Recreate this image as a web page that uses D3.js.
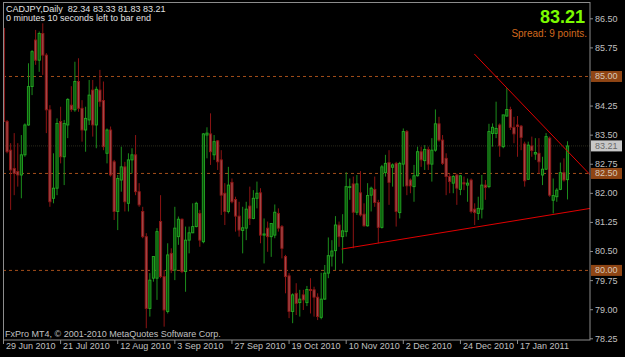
<!DOCTYPE html>
<html>
<head>
<meta charset="utf-8">
<title>CADJPY Daily</title>
<style>
  body { margin: 0; background: #000; }
  svg { display: block; font-family: "Liberation Sans", Arial, sans-serif; }
</style>
</head>
<body>
<svg id="chart" width="625" height="357"></svg>
<script src="https://d3js.org/d3.v7.min.js"></script>
<script>
// CADJPY daily, 29 Jun 2010 .. 4 Feb 2011, each bar is [open, high, low, close]
const bars = [
  [86.24,86.30,83.79,83.84],[83.84,83.88,83.02,83.06],[83.10,83.28,81.56,82.59],[82.63,83.54,81.94,82.50],
  [82.55,83.28,82.16,82.46],[82.46,83.49,81.86,82.98],[82.98,83.79,82.93,83.75],[83.75,85.34,83.73,84.74],
  [84.74,85.68,84.52,85.64],[85.94,86.20,85.30,85.42],[85.42,86.16,85.12,86.11],[86.11,86.37,85.04,85.55],
  [85.55,85.60,83.54,84.14],[84.14,84.26,81.64,81.77],[81.86,83.02,81.73,82.12],[82.12,83.92,81.94,83.79],
  [83.84,84.22,82.76,82.93],[82.93,83.88,82.20,83.79],[83.75,84.44,83.41,84.41],[84.26,84.75,84.09,84.15],
  [84.14,85.38,84.09,84.87],[84.87,85.47,84.09,84.18],[84.18,84.39,83.32,83.62],[83.62,84.22,83.06,83.92],
  [83.88,84.91,83.75,84.52],[84.65,84.91,83.45,83.75],[83.75,84.74,83.15,84.67],[84.65,85.17,84.22,84.35],
  [84.38,84.87,83.10,83.19],[83.02,83.66,82.76,83.62],[83.62,83.71,82.42,82.46],[82.80,82.85,81.30,81.52],
  [81.52,82.46,81.04,82.37],[82.33,83.19,82.03,82.67],[82.67,82.80,81.52,81.77],[81.73,83.02,81.52,82.85],
  [82.85,83.15,82.50,82.98],[82.98,83.49,81.94,82.03],[82.03,82.25,81.64,81.69],[81.52,81.64,80.83,80.87],
  [80.87,80.96,78.51,79.02],[79.02,79.93,78.81,79.75],[79.80,80.36,79.71,80.36],[79.80,81.09,79.24,81.00],
  [81.26,81.94,79.80,79.84],[79.84,80.01,78.55,78.98],[78.94,80.70,78.89,80.40],[80.44,80.57,79.93,80.01],
  [80.01,81.64,79.75,81.09],[80.87,81.39,80.66,81.32],[81.32,81.34,79.93,79.97],[79.97,81.13,79.45,80.78],
  [80.78,81.13,80.44,80.97],[80.97,81.73,80.96,81.13],[81.13,81.77,81.11,81.73],[81.47,81.56,80.61,80.78],
  [80.74,83.54,80.70,83.52],[83.49,83.69,82.89,83.54],[83.52,84.05,82.72,83.06],[82.98,83.49,82.85,83.32],
  [83.34,83.36,82.59,82.80],[82.85,83.10,81.43,81.94],[81.99,82.25,81.17,81.52],[81.52,82.67,81.47,82.20],
  [82.27,82.37,81.73,81.77],[81.83,81.90,81.00,81.40],[81.40,81.77,80.87,81.04],[81.03,81.64,80.44,81.10],
  [81.09,81.77,80.78,81.58],[81.66,82.16,81.17,81.34],[81.34,82.07,81.32,81.86],[81.86,82.29,81.60,81.99],
  [82.00,82.12,80.70,80.91],[80.91,81.34,80.18,80.94],[81.09,81.26,80.48,80.87],[80.87,81.21,80.35,81.21],
  [80.91,81.70,80.83,81.50],[81.47,81.60,81.00,81.09],[81.13,81.17,80.31,80.57],[80.36,80.40,79.41,79.84],
  [79.86,79.93,78.77,78.94],[78.94,79.41,78.64,79.37],[79.41,79.67,78.85,79.15],[79.17,79.50,78.81,79.26],
  [79.37,79.50,78.98,79.24],[79.17,79.60,79.08,79.51],[79.51,79.80,78.89,79.48],[79.50,79.58,78.81,79.31],
  [79.31,79.41,78.72,78.81],[78.79,79.94,78.74,79.26],[79.26,80.14,79.24,79.93],[79.93,80.85,79.80,80.38],
  [80.37,80.78,80.10,80.50],[80.51,81.40,80.01,81.17],[81.17,81.26,80.61,80.87],[80.87,81.45,80.18,81.02],
  [81.00,82.53,80.87,82.16],[82.14,82.37,81.82,82.16],[82.23,82.42,80.57,81.50],[81.50,82.46,81.43,82.23],
  [82.00,82.56,81.39,81.43],[81.45,81.73,81.13,81.15],[81.15,82.25,81.13,81.93],[81.94,82.16,81.52,82.12],
  [82.09,82.42,81.64,81.75],[81.75,81.82,80.70,81.11],[81.11,82.72,81.08,82.67],[82.52,82.98,82.42,82.76],
  [82.78,83.10,81.69,82.27],[82.66,82.76,82.16,82.72],[82.76,82.80,81.13,81.52],[81.49,82.80,81.34,82.76],
  [82.74,83.66,82.16,83.58],[83.58,83.62,81.94,82.18],[82.33,82.37,81.99,82.18],[82.16,82.72,81.77,82.44],
  [82.44,83.19,82.42,83.06],[83.06,83.19,82.67,82.85],[82.83,83.23,82.59,83.12],[83.12,83.19,82.59,82.74],
  [82.74,83.41,82.29,83.10],[83.10,84.15,83.06,83.78],[83.78,83.96,83.32,83.36],[83.36,83.49,82.72,82.76],
  [82.89,83.02,81.94,82.42],[82.42,82.50,81.99,82.29],[82.25,82.46,81.99,82.42],[82.46,82.50,81.69,82.12],
  [82.09,82.46,81.94,82.44],[82.26,82.42,82.07,82.23],[82.20,82.37,81.77,82.25],[82.33,82.37,81.47,81.52],
  [81.58,81.73,81.17,81.49],[81.47,81.90,81.30,81.60],[81.58,82.46,81.34,82.20],[82.20,82.33,81.82,82.14],
  [82.16,83.78,82.12,83.58],[83.53,83.79,83.19,83.69],[83.53,84.35,83.41,83.66],[83.75,83.79,82.93,83.21],
  [83.19,84.01,83.15,84.01],[83.98,84.70,83.96,84.15],[84.15,84.22,83.62,83.69],[83.69,83.96,83.28,83.52],
  [83.75,83.98,82.93,83.71],[83.72,83.75,83.10,83.43],[83.26,83.32,82.16,82.31],[82.35,83.32,82.33,83.23],
  [83.21,83.45,82.93,83.09],[83.00,83.41,82.85,83.04],[83.02,83.41,82.50,82.80],[82.46,82.93,82.20,82.61],
  [82.61,83.54,82.59,83.45],[83.41,83.45,81.90,81.94],[81.81,82.37,81.47,81.93],[81.90,82.12,81.77,82.07],
  [82.09,82.78,82.07,82.52],[82.52,82.89,82.29,82.33],[82.34,83.33,81.83,83.21]
];

const xTickBars   = [0, 16, 32, 48, 64, 80, 96, 112, 128, 144];
const xTickLabels = ["29 Jun 2010", "21 Jul 2010", "12 Aug 2010", "3 Sep 2010", "27 Sep 2010",
                     "19 Oct 2010", "10 Nov 2010", "2 Dec 2010", "24 Dec 2010", "17 Jan 2011"];
const yTicks = [86.50, 85.75, 85.00, 84.25, 83.50, 82.75, 82.00, 81.25, 80.50, 79.75, 79.00, 78.25];
const levels = [85.00, 82.50, 80.00];
const lastPrice = 83.21;
const spreadPoints = 9;
// trend lines drawn on the chart, [bar, price] at each end
const trendLines = [
  [[131.9, 85.58], [164.4, 82.46]],
  [[94.7, 80.55], [164.4, 81.60]]
];

const svg = d3.select("#chart");
const plotL = 3, plotR = 590, plotT = 3, plotB = 340;

const x = d3.scaleLinear().domain([0, bars.length - 1]).range([3.5, 567.5]);
const y = d3.scaleLinear().domain([78.25, 86.50]).range([338.3, 18.3]);

svg.append("rect").attr("width", 625).attr("height", 357).attr("fill", "#000");

svg.append("clipPath").attr("id", "plot")
  .append("rect").attr("x", plotL).attr("y", plotT).attr("width", plotR - plotL).attr("height", plotB - plotT);

const plot = svg.append("g").attr("clip-path", "url(#plot)");

// bid line
plot.append("line")
  .attr("x1", plotL).attr("x2", plotR)
  .attr("y1", y(lastPrice)).attr("y2", y(lastPrice))
  .attr("stroke", "#2b2b1c").attr("stroke-dasharray", "1,1");

// level lines
plot.selectAll(".level")
  .data(levels)
  .enter()
  .append("line")
  .attr("x1", plotL).attr("x2", plotR)
  .attr("y1", d => y(d)).attr("y2", d => y(d))
  .attr("stroke", "#a34e1a").attr("stroke-dasharray", "3,3");

// candles
let candle = plot.selectAll(".candle")
  .data(bars)
  .enter()
  .append("g");

candle.append("line")
  .attr("x1", (d, i) => x(i)).attr("x2", (d, i) => x(i))
  .attr("y1", d => y(d[1])).attr("y2", d => y(d[2]))
  .attr("stroke", d => d[3] >= d[0] ? "#1c8c1c" : "#8c1414");

candle.append("rect")
  .attr("x", (d, i) => x(i) - 1.1)
  .attr("width", 2.2)
  .attr("y", d => y(Math.max(d[0], d[3])))
  .attr("height", d => Math.max(0.6, Math.abs(y(d[0]) - y(d[3]))))
  .attr("fill", d => d[3] >= d[0] ? "#0b4f0b" : "#a04848")
  .attr("stroke", d => d[3] >= d[0] ? "#22a822" : "#8c1414")
  .attr("stroke-width", 0.9);

// trend lines
plot.selectAll(".trend")
  .data(trendLines)
  .enter()
  .append("line")
  .attr("x1", d => x(d[0][0])).attr("y1", d => y(d[0][1]))
  .attr("x2", d => x(d[1][0])).attr("y2", d => y(d[1][1]))
  .attr("stroke", "#e00000").attr("stroke-width", 1);

// frame
svg.append("rect")
  .attr("x", plotL + 0.5).attr("y", plotT - 0.5)
  .attr("width", plotR - plotL - 0.5).attr("height", plotB - plotT + 0.5)
  .attr("fill", "none").attr("stroke", "#8c8c8c");

// right price axis
let yAxis = svg.append("g")
  .attr("transform", `translate(${plotR},0)`)
  .call(d3.axisRight(y).tickValues(yTicks).tickFormat(d3.format(".2f")).tickSize(3).tickSizeOuter(0));
yAxis.select(".domain").remove();
yAxis.selectAll("line").attr("stroke", "#8c8c8c");
yAxis.selectAll("text").attr("fill", "#c0c0c0").attr("font-size", 9).attr("x", 5);

// level price boxes
let box = svg.selectAll(".lvlbox")
  .data(levels)
  .enter()
  .append("g")
  .attr("transform", d => `translate(${plotR + 1},${y(d)})`);
box.append("rect").attr("x", 0).attr("y", -5.5).attr("width", 31).attr("height", 11).attr("fill", "#8f4514");
box.append("text").attr("x", 4).attr("dy", "0.33em").attr("font-size", 9).attr("fill", "#d8c8b8")
  .text(d => d3.format(".2f")(d));

let bid = svg.append("g").attr("transform", `translate(${plotR + 1},${y(lastPrice)})`);
bid.append("rect").attr("x", 0).attr("y", -5.5).attr("width", 31).attr("height", 11).attr("fill", "#c8c8c8");
bid.append("text").attr("x", 4).attr("dy", "0.33em").attr("font-size", 9).attr("fill", "#686868")
  .text(d3.format(".2f")(lastPrice));

// bottom time axis
let xAxis = svg.append("g")
  .attr("transform", `translate(0,${plotB})`)
  .call(d3.axisBottom(x).tickValues(xTickBars).tickFormat((d, i) => xTickLabels[i]).tickSize(4).tickSizeOuter(0));
xAxis.select(".domain").remove();
xAxis.selectAll("line").attr("stroke", "#8c8c8c").attr("transform", "translate(-0.5,0)");
xAxis.selectAll("text").attr("fill", "#c0c0c0").attr("font-size", 9)
  .attr("text-anchor", "start").attr("x", 2).attr("y", 3).attr("dy", "0.71em");

// header texts
const last = bars[bars.length - 1];
svg.append("text").attr("x", 6).attr("y", 12).attr("font-size", 9).attr("fill", "#e0e0e0")
  .attr("xml:space", "preserve")
  .text("CADJPY,Daily  " + last.map(d3.format(".2f")).join(" "));
svg.append("text").attr("x", 6).attr("y", 21).attr("font-size", 9).attr("fill", "#e0e0e0")
  .text("0 minutes 10 seconds left to bar end");

svg.append("text").attr("x", 585).attr("y", 23).attr("text-anchor", "end")
  .attr("font-size", 18).attr("font-weight", "bold").attr("fill", "#7cfc00")
  .text(d3.format(".2f")(lastPrice));
svg.append("text").attr("x", 587).attr("y", 36.5).attr("text-anchor", "end")
  .attr("font-size", 10).attr("fill", "#d2691e")
  .text("Spread: " + spreadPoints + " points.");

svg.append("text").attr("x", 5).attr("y", 337).attr("font-size", 9).attr("fill", "#c0c0c0")
  .text("FxPro MT4, \u00a9 2001-2010 MetaQuotes Software Corp.");
</script>
</body>
</html>
